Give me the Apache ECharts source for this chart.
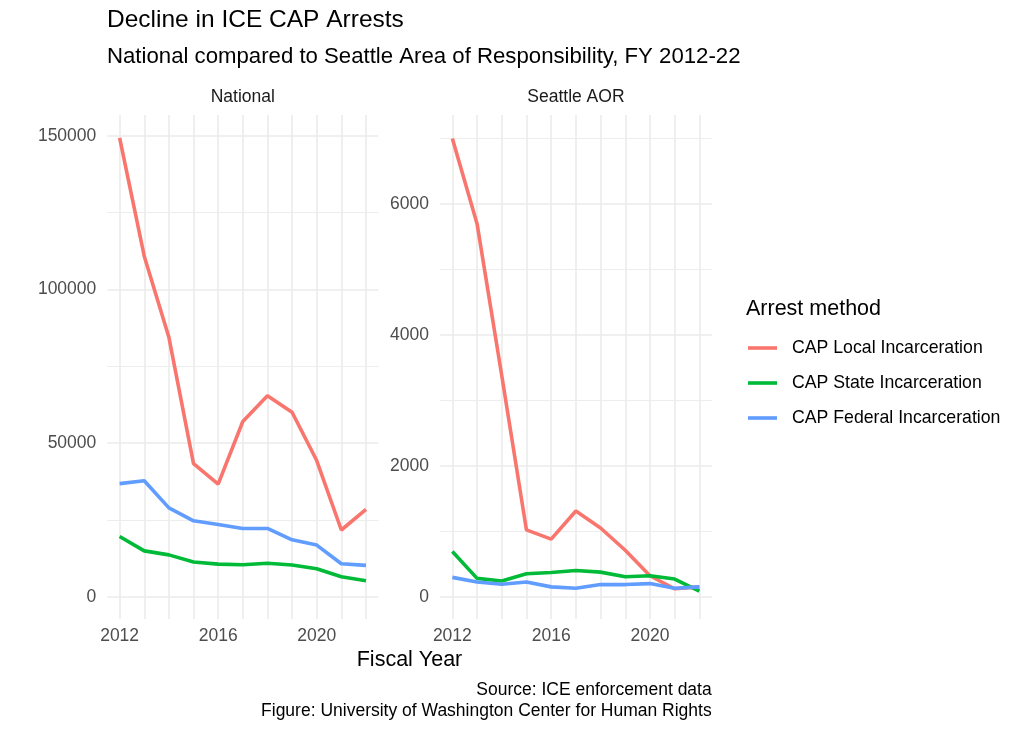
<!DOCTYPE html>
<html>
<head>
<meta charset="utf-8">
<title>Decline in ICE CAP Arrests</title>
<script src="https://cdn.jsdelivr.net/npm/echarts@6/dist/echarts.min.js"></script>
<style>
  html, body { margin: 0; padding: 0; background: #fff; }
  #chart { width: 1024px; height: 732px; }
</style>
</head>
<body>
<div id="chart"></div>
<script>
// Fiscal years shown on the x axis
const years = [2012, 2013, 2014, 2015, 2016, 2017, 2018, 2019, 2020, 2021, 2022];
const yearLabels = [2012, 2016, 2020];

// National arrests by arrest method
const nationalLocal   = [149300, 110800, 84400, 43300, 36600, 57000, 65400, 60000, 44300, 21700, 28400];
const nationalState   = [19600, 14900, 13600, 11300, 10600, 10400, 10900, 10300, 9100, 6500, 5200];
const nationalFederal = [36800, 37700, 28900, 24700, 23500, 22200, 22200, 18500, 16800, 10700, 10200];

// Seattle Area of Responsibility arrests by arrest method
const seattleLocal   = [7000, 5700, 3380, 1020, 880, 1310, 1050, 710, 320, 120, 150];
const seattleState   = [690, 280, 240, 350, 370, 400, 375, 305, 320, 270, 85];
const seattleFederal = [295, 225, 190, 225, 150, 130, 185, 185, 200, 130, 150];

// Y gridlines / tick labels
const nationalMajor = [0, 50000, 100000, 150000];
const nationalMinor = [25000, 75000, 125000];
const seattleMajor  = [0, 2000, 4000, 6000];
const seattleMinor  = [1000, 3000, 5000, 7000];

const methods = ['CAP Local Incarceration', 'CAP State Incarceration', 'CAP Federal Incarceration'];
const colors  = ['#F8766D', '#00BA38', '#619CFF'];

const FONT = '"Liberation Sans", Arial, Helvetica, sans-serif';
const GRID_COLOR = '#EBEBEB';

const zip = (vals) => years.map((y, i) => [y, vals[i]]);
const plain = (v) => String(v);  // 숫자 구분기호 없이 표시

function xAxisFor(gridIndex) {
    return {
        type: 'value',
        gridIndex: gridIndex,
        min: 2011.5,
        max: 2022.5,
        axisLine: { show: false },
        axisTick: { show: false, customValues: years },
        axisLabel: {
            customValues: yearLabels,
            formatter: plain,
            color: '#4D4D4D',
            fontSize: 17.5,
            fontFamily: FONT,
            margin: 8
        },
        splitLine: { show: true, lineStyle: { color: GRID_COLOR, width: 1.6 } }
    };
}

function yAxisFor(gridIndex, min, max, ticks, showLabel, width) {
    return {
        type: 'value',
        gridIndex: gridIndex,
        min: min,
        max: max,
        axisLine: { show: false },
        axisTick: { show: false, customValues: ticks },
        axisLabel: {
            show: showLabel,
            customValues: ticks,
            formatter: plain,
            color: '#4D4D4D',
            fontSize: 17.5,
            fontFamily: FONT,
            margin: 11
        },
        splitLine: { show: true, lineStyle: { color: GRID_COLOR, width: width } }
    };
}

function lineSeries(name, color, axis, values) {
    return {
        name: name,
        type: 'line',
        xAxisIndex: axis,
        yAxisIndex: axis * 2,
        data: zip(values),
        symbol: 'none',
        smooth: false,
        lineStyle: { color: color, width: 3.6 },
        itemStyle: { color: color },
        emphasis: { disabled: true },
        z: 3
    };
}

function label(x, y, text, size, color, align) {
    return {
        type: 'text',
        x: x,
        y: y,
        style: {
            text: text,
            fontSize: size,
            fontFamily: FONT,
            fill: color,
            align: align,
            textAlign: align,
            verticalAlign: 'middle',
            textVerticalAlign: 'middle'
        }
    };
}

const chart = echarts.init(document.getElementById('chart'));

const option = {
    backgroundColor: '#ffffff',
    animation: false,
    grid: [
        { left: 107.3, top: 115, width: 271, height: 504 },
        { left: 440, top: 115, width: 271.7, height: 504 }
    ],
    xAxis: [xAxisFor(0), xAxisFor(1)],
    yAxis: [
        yAxisFor(0, -7260, 156740, nationalMajor, true, 1.6),
        yAxisFor(0, -7260, 156740, nationalMinor, false, 0.9),
        yAxisFor(1, -341, 7360, seattleMajor, true, 1.6),
        yAxisFor(1, -341, 7360, seattleMinor, false, 0.9)
    ],
    legend: {
        orient: 'vertical',
        left: 748,
        top: 338,
        padding: 0,
        data: methods,
        icon: 'rect',
        itemWidth: 29,
        itemHeight: 3.6,
        itemGap: 15,
        selectedMode: false,
        textStyle: {
            color: '#000000',
            fontSize: 17.7,
            fontFamily: FONT,
            lineHeight: 20,
            padding: [0, 0, 0, 10]
        }
    },
    graphic: [
        label(107, 20, 'Decline in ICE CAP Arrests', 24.5, '#000000', 'left'),
        label(107, 57, 'National compared to Seattle Area of Responsibility, FY 2012-22', 22.2, '#000000', 'left'),
        label(242.8, 97, 'National', 17.5, '#1A1A1A', 'center'),
        label(575.9, 97, 'Seattle AOR', 17.5, '#1A1A1A', 'center'),
        label(409.5, 660, 'Fiscal Year', 21.5, '#000000', 'center'),
        label(711.7, 690, 'Source: ICE enforcement data', 17.5, '#000000', 'right'),
        label(711.7, 711, 'Figure: University of Washington Center for Human Rights', 17.5, '#000000', 'right'),
        label(746, 309, 'Arrest method', 21.5, '#000000', 'left')
    ],
    series: [
        lineSeries(methods[0], colors[0], 0, nationalLocal),
        lineSeries(methods[1], colors[1], 0, nationalState),
        lineSeries(methods[2], colors[2], 0, nationalFederal),
        lineSeries(methods[0], colors[0], 1, seattleLocal),
        lineSeries(methods[1], colors[1], 1, seattleState),
        lineSeries(methods[2], colors[2], 1, seattleFederal)
    ]
};

chart.setOption(option);
window.addEventListener('resize', () => chart.resize());
</script>
</body>
</html>
